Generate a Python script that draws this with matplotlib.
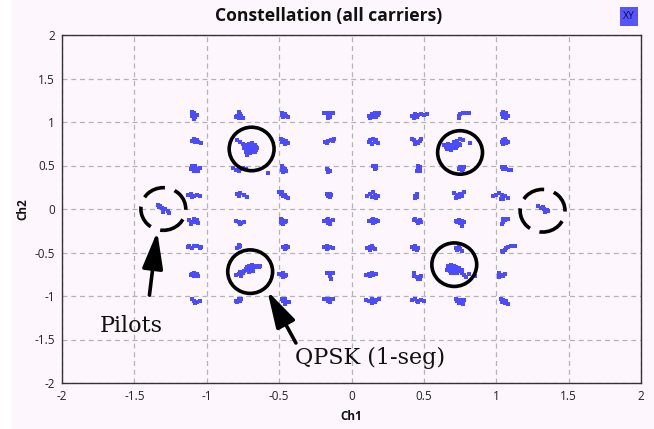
import matplotlib
matplotlib.use("Agg")
import matplotlib.pyplot as plt
from matplotlib.patches import Ellipse, Rectangle

# ---------------- data ----------------
title = "Constellation (all carriers)"
x_label = "Ch1"
y_label = "Ch2"
ticks = [-2, -1.5, -1, -0.5, 0, 0.5, 1, 1.5, 2]
tick_labels = ["-2", "-1.5", "-1", "-0.5", "0", "0.5", "1", "1.5", "2"]

# 64-QAM points, one list per constellation row (top to bottom)
qam_row1 = [(-1.10, 1.11), (-1.09, 1.10), (-1.10, 1.07), (-1.08, 1.06), (-1.09, 1.04), (-1.07, 1.08),
            (-0.78, 1.11), (-0.77, 1.09), (-0.79, 1.07), (-0.76, 1.07), (-0.78, 1.05), (-0.75, 1.05), (-0.80, 1.06),
            (-0.48, 1.10), (-0.46, 1.09), (-0.45, 1.07), (-0.47, 1.06), (-0.44, 1.06), (-0.48, 1.08),
            (-0.19, 1.10), (-0.17, 1.10), (-0.15, 1.10), (-0.13, 1.10), (-0.16, 1.08), (-0.15, 1.06), (-0.16, 1.05),
            (0.12, 1.07), (0.14, 1.09), (0.16, 1.10), (0.18, 1.08), (0.15, 1.06), (0.17, 1.06), (0.13, 1.05), (0.19, 1.10),
            (0.42, 1.07), (0.44, 1.09), (0.46, 1.08), (0.48, 1.09), (0.50, 1.08), (0.45, 1.06), (0.43, 1.05), (0.52, 1.09),
            (0.74, 1.05), (0.74, 1.07), (0.75, 1.09), (0.77, 1.10), (0.79, 1.10), (0.81, 1.10),
            (1.05, 1.06), (1.06, 1.08), (1.07, 1.10), (1.05, 1.11), (1.08, 1.07), (1.07, 1.05), (1.04, 1.09)]
qam_row2 = [(-1.09, 0.80), (-1.10, 0.78), (-1.08, 0.77), (-1.06, 0.77), (-1.04, 0.76), (-1.07, 0.79),
            (-0.49, 0.80), (-0.47, 0.79), (-0.45, 0.78), (-0.48, 0.77), (-0.44, 0.76), (-0.46, 0.75),
            (-0.18, 0.77), (-0.16, 0.78), (-0.14, 0.79), (-0.12, 0.80), (-0.17, 0.76), (-0.13, 0.78),
            (0.12, 0.77), (0.13, 0.79), (0.15, 0.80), (0.16, 0.77), (0.14, 0.75), (0.17, 0.79), (0.18, 0.76),
            (0.42, 0.80), (0.43, 0.79), (0.45, 0.77), (0.46, 0.76), (0.47, 0.78), (0.48, 0.81), (0.44, 0.75),
            (1.04, 0.77), (1.05, 0.79), (1.06, 0.80), (1.07, 0.78), (1.08, 0.77), (1.06, 0.76), (1.05, 0.75), (1.07, 0.76)]
qam_row3 = [(-1.10, 0.50), (-1.09, 0.47), (-1.08, 0.49), (-1.09, 0.44), (-1.07, 0.46), (-1.05, 0.47), (-1.11, 0.46), (-1.06, 0.44),
            (-0.82, 0.47), (-0.80, 0.45), (-0.78, 0.44), (-0.77, 0.46), (-0.75, 0.47), (-0.73, 0.46), (-0.58, 0.41),
            (-0.48, 0.49), (-0.47, 0.47), (-0.46, 0.46), (-0.48, 0.45), (-0.45, 0.44), (-0.47, 0.43),
            (-0.17, 0.46), (-0.16, 0.45), (-0.16, 0.43), (-0.15, 0.44),
            (0.15, 0.49), (0.16, 0.48), (0.17, 0.47), (0.16, 0.46), (0.17, 0.50),
            (0.46, 0.49), (0.47, 0.48), (0.46, 0.46), (0.45, 0.44), (0.47, 0.44),
            (0.74, 0.46), (0.75, 0.48), (0.76, 0.47), (0.77, 0.46), (0.78, 0.48), (0.76, 0.45),
            (1.04, 0.48), (1.06, 0.48), (1.07, 0.46), (1.09, 0.45), (1.10, 0.45), (1.05, 0.46)]
qam_row4 = [(-1.13, 0.16), (-1.11, 0.17), (-1.09, 0.15), (-1.07, 0.16), (-1.05, 0.15), (-1.10, 0.14),
            (-0.79, 0.17), (-0.77, 0.18), (-0.74, 0.16), (-0.72, 0.14), (-0.78, 0.15),
            (-0.50, 0.20), (-0.49, 0.17), (-0.47, 0.15), (-0.45, 0.14), (-0.46, 0.16), (-0.44, 0.13), (-0.48, 0.19),
            (-0.17, 0.17), (-0.15, 0.17), (-0.16, 0.15), (-0.15, 0.14), (-0.14, 0.16),
            (0.11, 0.15), (0.13, 0.17), (0.15, 0.19), (0.16, 0.16), (0.18, 0.15), (0.14, 0.14), (0.17, 0.13),
            (0.44, 0.15), (0.45, 0.17), (0.45, 0.14), (0.44, 0.13),
            (0.71, 0.18), (0.73, 0.16), (0.75, 0.17), (0.76, 0.15), (0.74, 0.14), (0.78, 0.19), (0.72, 0.13),
            (0.98, 0.15), (1.00, 0.16), (1.02, 0.18), (1.04, 0.16), (1.06, 0.15), (1.08, 0.13), (1.05, 0.11), (1.03, 0.12)]
qam_row5 = [(-1.12, -0.13), (-1.10, -0.15), (-1.09, -0.12), (-1.08, -0.15), (-1.07, -0.13), (-1.11, -0.17), (-1.06, -0.16),
            (-0.80, -0.14), (-0.78, -0.15), (-0.76, -0.16), (-0.74, -0.15), (-0.77, -0.17),
            (-0.49, -0.11), (-0.48, -0.13), (-0.47, -0.14), (-0.49, -0.15), (-0.48, -0.16), (-0.46, -0.15), (-0.45, -0.14), (-0.47, -0.17),
            (-0.19, -0.14), (-0.17, -0.13), (-0.16, -0.11), (-0.15, -0.14), (-0.13, -0.13), (-0.16, -0.16), (-0.15, -0.17),
            (0.12, -0.14), (0.14, -0.13), (0.15, -0.11), (0.16, -0.15), (0.17, -0.13), (0.18, -0.14), (0.15, -0.16),
            (0.43, -0.13), (0.44, -0.12), (0.45, -0.14), (0.47, -0.13), (0.48, -0.15), (0.46, -0.16),
            (0.72, -0.14), (0.74, -0.13), (0.76, -0.14), (0.78, -0.15), (0.75, -0.16), (0.76, -0.19), (0.73, -0.15),
            (1.04, -0.17), (1.05, -0.15), (1.06, -0.13), (1.07, -0.12), (1.08, -0.11), (1.05, -0.12)]
qam_row6 = [(-1.13, -0.44), (-1.12, -0.42), (-1.10, -0.45), (-1.09, -0.42), (-1.07, -0.43), (-1.05, -0.45), (-1.04, -0.44),
            (-0.78, -0.44), (-0.77, -0.42), (-0.78, -0.41), (-0.79, -0.45),
            (-0.47, -0.44), (-0.45, -0.43), (-0.44, -0.44), (-0.46, -0.46), (-0.45, -0.45),
            (-0.19, -0.44), (-0.17, -0.43), (-0.16, -0.45), (-0.15, -0.44), (-0.13, -0.45), (-0.17, -0.46),
            (0.11, -0.45), (0.13, -0.44), (0.14, -0.42), (0.15, -0.45), (0.16, -0.46), (0.13, -0.47),
            (0.42, -0.44), (0.43, -0.46), (0.44, -0.45), (0.45, -0.47), (0.46, -0.45), (0.44, -0.43),
            (0.72, -0.45), (0.73, -0.47), (0.75, -0.46), (0.76, -0.48), (0.74, -0.44),
            (1.04, -0.48), (1.06, -0.47), (1.07, -0.45), (1.08, -0.44), (1.10, -0.43), (1.05, -0.49), (1.13, -0.42)]
qam_row7 = [(-1.11, -0.76), (-1.10, -0.75), (-1.09, -0.73), (-1.08, -0.76), (-1.07, -0.75), (-1.06, -0.77), (-1.09, -0.77),
            (-0.50, -0.75), (-0.48, -0.76), (-0.47, -0.74), (-0.46, -0.77), (-0.45, -0.76), (-0.47, -0.78),
            (-0.17, -0.74), (-0.15, -0.74), (-0.13, -0.74), (-0.15, -0.77), (-0.14, -0.80),
            (0.10, -0.76), (0.12, -0.75), (0.14, -0.74), (0.15, -0.76), (0.17, -0.75), (0.13, -0.77),
            (0.43, -0.74), (0.43, -0.77), (0.45, -0.78), (0.46, -0.80), (0.48, -0.77), (0.47, -0.81),
            (1.02, -0.74), (1.02, -0.76), (1.02, -0.78), (1.04, -0.76), (1.06, -0.75), (1.05, -0.77)]
qam_row8 = [(-1.10, -1.04), (-1.09, -1.06), (-1.07, -1.07), (-1.05, -1.06), (-1.08, -1.08),
            (-0.80, -1.06), (-0.79, -1.07), (-0.77, -1.06), (-0.76, -1.04), (-0.78, -1.03),
            (-0.48, -1.03), (-0.46, -1.04), (-0.47, -1.06), (-0.45, -1.07), (-0.43, -1.07), (-0.46, -1.09),
            (-0.19, -1.04), (-0.17, -1.04), (-0.15, -1.04), (-0.13, -1.04), (-0.16, -1.06), (-0.15, -1.07),
            (0.10, -1.05), (0.12, -1.06), (0.14, -1.04), (0.16, -1.07), (0.17, -1.05), (0.19, -1.04), (0.14, -1.08),
            (0.42, -1.05), (0.44, -1.04), (0.45, -1.06), (0.48, -1.05), (0.50, -1.06), (0.46, -1.07),
            (0.72, -1.04), (0.73, -1.06), (0.75, -1.05), (0.76, -1.07), (0.77, -1.09), (0.74, -1.08), (0.78, -1.05),
            (1.03, -1.04), (1.05, -1.05), (1.07, -1.06), (1.06, -1.08), (1.08, -1.09), (1.04, -1.07)]

# QPSK (1-seg) clusters
qpsk_points = [
    (-0.79, 0.79), (-0.77, 0.77), (-0.75, 0.75), (-0.73, 0.74), (-0.71, 0.75), (-0.69, 0.76), (-0.72, 0.72),
    (-0.70, 0.72), (-0.68, 0.72), (-0.66, 0.71), (-0.74, 0.70), (-0.72, 0.69), (-0.70, 0.69), (-0.68, 0.69),
    (-0.66, 0.68), (-0.71, 0.67), (-0.69, 0.66), (-0.67, 0.66), (-0.73, 0.65), (-0.70, 0.64), (-0.72, 0.62),
    (-0.65, 0.70), (-0.69, 0.74), (-0.67, 0.74),
    (0.64, 0.73), (0.65, 0.71), (0.66, 0.73), (0.67, 0.72), (0.68, 0.70), (0.68, 0.74), (0.69, 0.72),
    (0.70, 0.70), (0.70, 0.74), (0.71, 0.72), (0.72, 0.70), (0.72, 0.74), (0.73, 0.72), (0.74, 0.75),
    (0.66, 0.69), (0.69, 0.68), (0.71, 0.77), (0.73, 0.78), (0.75, 0.80), (0.77, 0.79), (0.82, 0.76),
    (0.75, 0.73), (0.67, 0.75),
    (-0.72, -0.67), (-0.71, -0.65), (-0.70, -0.68), (-0.69, -0.66), (-0.68, -0.68), (-0.70, -0.70),
    (-0.72, -0.70), (-0.67, -0.66), (-0.66, -0.67), (-0.65, -0.66), (-0.63, -0.65), (-0.64, -0.67),
    (-0.69, -0.64), (-0.71, -0.72), (-0.74, -0.71), (-0.75, -0.73), (-0.77, -0.72), (-0.78, -0.75),
    (-0.76, -0.77), (-0.80, -0.76), (-0.73, -0.69), (-0.68, -0.71),
    (0.67, -0.66), (0.69, -0.64), (0.70, -0.66), (0.71, -0.65), (0.72, -0.67), (0.68, -0.68), (0.70, -0.68),
    (0.72, -0.69), (0.74, -0.68), (0.66, -0.70), (0.68, -0.71), (0.70, -0.71), (0.72, -0.71), (0.74, -0.71),
    (0.69, -0.73), (0.71, -0.73), (0.73, -0.74), (0.76, -0.73), (0.78, -0.76), (0.79, -0.78), (0.81, -0.75),
    (0.85, -0.77), (0.76, -0.70)]

# Pilot (BPSK) points
pilot_points = [(-1.34, 0.05), (-1.32, 0.03), (-1.31, 0.01), (-1.29, 0.00), (-1.27, -0.02), (-1.30, -0.03),
                (-1.26, -0.05), (-1.33, 0.02),
                (1.29, 0.03), (1.31, 0.01), (1.33, 0.00), (1.35, -0.01), (1.36, -0.02), (1.32, 0.02), (1.34, -0.03)]

# Annotation marks (centres of the drawn circles)
qpsk_circles = [(-0.69, 0.69), (0.75, 0.65), (0.71, -0.64), (-0.70, -0.72)]
pilot_circles = [(-1.30, 0.00), (1.32, -0.02)]
pilots_label = "Pilots"
qpsk_label = "QPSK (1-seg)"

# ---------------- drawing ----------------
BG = "#fdf7fd"
DOT = "#4b4bff"

fig = plt.figure(figsize=(6.54, 4.29), dpi=100, facecolor=BG)
fig.patches.append(Rectangle((0, 0), 12 / 654, 1, transform=fig.transFigure,
                             facecolor="white", edgecolor="none", zorder=0))
ax = fig.add_axes([62 / 654, 1 - 383 / 429, 579 / 654, 348 / 429])
ax.set_facecolor(BG)

tick_font = dict(family=["Open Sans", "DejaVu Sans"], size=8.5, color="#222222")

ax.set_xlim(-2, 2)
ax.set_ylim(-2, 2)
ax.set_xticks(ticks)
ax.set_yticks(ticks)
ax.set_xticklabels(tick_labels, fontdict=tick_font)
ax.set_yticklabels(tick_labels, fontdict=tick_font)
ax.tick_params(length=0, pad=5)
ax.grid(True, color="#b4b4b4", linestyle=(0, (4, 3)), linewidth=0.9)
ax.set_axisbelow(True)
for s in ax.spines.values():
    s.set_color("#333333")
    s.set_linewidth(1.0)

label_font = dict(family=["Open Sans", "DejaVu Sans"], size=8.5, weight="bold", color="#111111")
ax.set_xlabel(x_label, fontdict=label_font, labelpad=5)
ax.set_ylabel(y_label, fontdict=label_font, labelpad=4)
fig.text(329 / 654, 1 - 16 / 429, title, ha="center", va="center",
         family=["Open Sans", "DejaVu Sans"], size=12.6, weight="bold", color="#111111")

# XY badge
fig.patches.append(Rectangle((620 / 654, 1 - 26 / 429), 18 / 654, 19 / 429, transform=fig.transFigure,
                             facecolor="#5555ff", edgecolor="none"))
fig.text(629 / 654, 1 - 16.5 / 429, "XY", ha="center", va="center",
         family=["Open Sans", "DejaVu Sans"], size=7.5, color="#101040")

qam_all = qam_row1 + qam_row2 + qam_row3 + qam_row4 + qam_row5 + qam_row6 + qam_row7 + qam_row8
for pts in (qam_all, qpsk_points, pilot_points):
    xs = [p[0] for p in pts]
    ys = [p[1] for p in pts]
    ax.scatter(xs, ys, s=6.5, marker="s", color=DOT, linewidths=0, zorder=3)

for (cx, cy) in qpsk_circles:
    ax.add_patch(Ellipse((cx, cy), 0.31, 0.50, fill=False, edgecolor="black", linewidth=2.6, zorder=4))
for (cx, cy) in pilot_circles:
    ax.add_patch(Ellipse((cx, cy), 0.31, 0.49, fill=False, edgecolor="black", linewidth=2.6,
                         linestyle=(0, (6.5, 2.8)), zorder=4))

arrow = dict(arrowstyle="-|>,head_length=1.6,head_width=0.45", color="black", lw=2.6,
             shrinkA=0, shrinkB=0, mutation_scale=14)
ax.annotate("", xy=(-1.342, -0.26), xytext=(-1.396, -0.99), arrowprops=arrow, zorder=5)
ax.annotate("", xy=(-0.581, -0.943), xytext=(-0.384, -1.54), arrowprops=arrow, zorder=5)

serif = ["DejaVu Serif"]
ax.text(-1.736, -1.345, pilots_label, ha="left", va="center", family=serif, size=16, color="#111111", zorder=5)
ax.text(-0.391, -1.713, qpsk_label, ha="left", va="center", family=serif, size=16, color="#111111", zorder=5)

fig.savefig("out.png", dpi=100, facecolor=fig.get_facecolor())
